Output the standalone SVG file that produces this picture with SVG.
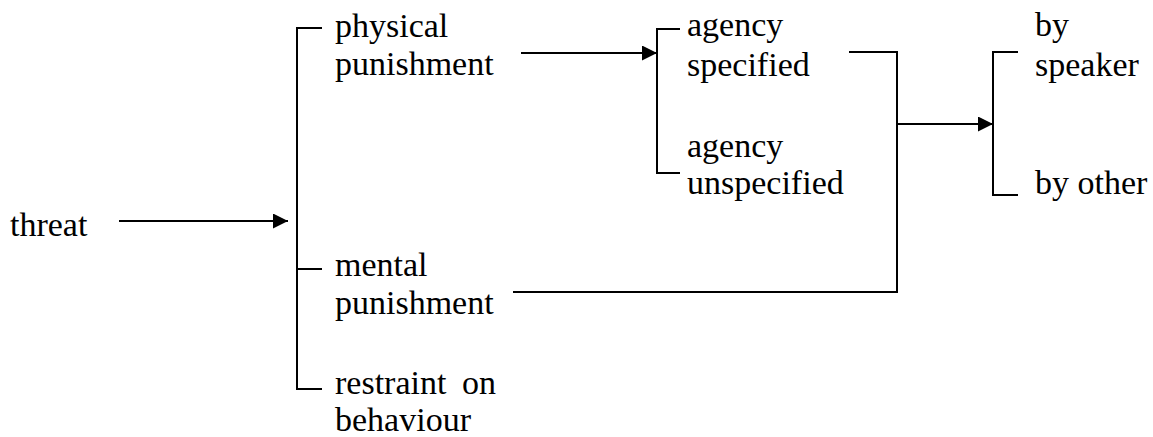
<svg xmlns="http://www.w3.org/2000/svg" width="1153" height="437" viewBox="0 0 1153 437">
<style>
  .t { font-family: 'Liberation Serif', 'Times New Roman', Times, 'DejaVu Serif', serif; font-size: 34px; fill: #000; }
  .ln { fill: none; stroke: #000; stroke-width: 2; }
</style>
<defs>
  <marker id="ah" markerUnits="userSpaceOnUse" markerWidth="16" markerHeight="16" refX="15" refY="7.5" orient="auto">
    <path d="M0,0 L15,7.5 L0,15 z" fill="#000"/>
  </marker>
</defs>
<rect width="1153" height="437" fill="#fff"/>
<g id="connectors">
  <line class="ln" x1="119" y1="221" x2="288" y2="221" marker-end="url(#ah)"/>
  <path class="ln" d="M322,28 H297 V389 H322 M297,269 H322"/>
  <line class="ln" x1="521" y1="53" x2="657" y2="53" marker-end="url(#ah)"/>
  <path class="ln" d="M680,29 H657 V173 H680"/>
  <path class="ln" d="M849,52 H897 V292 H513"/>
  <line class="ln" x1="897" y1="124" x2="993" y2="124" marker-end="url(#ah)"/>
  <path class="ln" d="M1018,52 H993 V195 H1018"/>
</g>
<g class="t" font-family="Liberation Serif, serif">
<g id="threat"><text x="10" y="236">threat</text></g>
<g id="physical"><text x="335" y="37">physical</text><text x="335" y="75">punishment</text></g>
<g id="mental"><text x="335" y="276">mental</text><text x="335" y="314">punishment</text></g>
<g id="restraint"><text x="335" y="394">restraint</text><text x="462" y="394">on</text><text x="335" y="431">behaviour</text></g>
<g id="agency-specified"><text x="687" y="36">agency</text><text x="687" y="76">specified</text></g>
<g id="agency-unspecified"><text x="687" y="157">agency</text><text x="687" y="194">unspecified</text></g>
<g id="by-speaker"><text x="1035" y="36">by</text><text x="1035" y="76">speaker</text></g>
<g id="by-other"><text x="1035" y="194">by other</text></g>
</g>
</svg>
